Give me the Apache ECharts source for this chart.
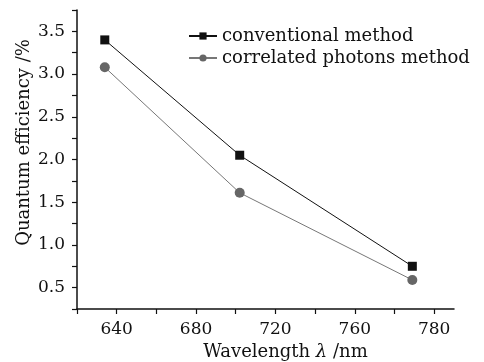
<!DOCTYPE html>
<html>
<head>
<meta charset="utf-8">
<script src="https://cdn.jsdelivr.net/npm/echarts@6/dist/echarts.min.js"></script>
<style>
  html, body { margin: 0; padding: 0; background: #fff; }
  #chart { width: 484px; height: 362px; }
</style>
</head>
<body>
<div id="chart"></div>
<script>
// wavelengths as placed on the drawn axis (nm)
const wavelengths = [634, 702, 789];
const conventional = [3.40, 2.05, 0.75];
const correlated = [3.08, 1.61, 0.59];
// x tick labels as printed (the last one reads 780 in the original)
const xTickValues = [640, 680, 720, 760, 800];
const xTickLabels = ['640', '680', '720', '760', '780'];
const yTickLabels = ['0.5', '1.0', '1.5', '2.0', '2.5', '3.0', '3.5'];

const serif = 'DejaVu Serif';

const myChart = echarts.init(document.getElementById('chart'), null, {renderer: 'canvas'});

const option = {
    backgroundColor: '#fff',
    animation: false,
    grid: {left: 77, right: 30, top: 10, bottom: 53, containLabel: false, outerBoundsMode: 'none'},
    legend: {
        left: 188,
        top: 27,
        padding: 0,
        orient: 'vertical',
        itemWidth: 28,
        itemHeight: 9,
        itemGap: 4,
        textStyle: {color: '#111', fontFamily: serif, fontSize: 18},
        data: ['conventional method', 'correlated photons method']
    },
    xAxis: {
        type: 'value',
        min: 620, max: 810, interval: 20,
        name: 'Wavelength {i|λ} /nm',
        nameLocation: 'middle',
        nameGap: 33,
        nameTextStyle: {
            color: '#111', fontFamily: serif, fontSize: 18,
            padding: [0, 0, 0, 40],
            rich: {i: {fontFamily: serif, fontStyle: 'italic', fontSize: 18, color: '#111'}}
        },
        axisLine: {lineStyle: {color: '#111', width: 1.5}},
        axisTick: {inside: false, length: 5, lineStyle: {color: '#111', width: 1.2}},
        splitLine: {show: false},
        axisLabel: {
            color: '#111', fontFamily: serif, fontSize: 17, margin: 12,
            showMinLabel: true, showMaxLabel: false,
            formatter: function (v) {
                const i = xTickValues.indexOf(v);
                return i >= 0 ? xTickLabels[i] : '';
            }
        }
    },
    yAxis: {
        type: 'value',
        min: 0.25, max: 3.75, interval: 0.25,
        name: 'Quantum efficiency /%',
        nameLocation: 'middle',
        nameGap: 44,
        nameMoveOverlap: false,
        nameTextStyle: {color: '#111', fontFamily: serif, fontSize: 18, padding: [0, 0, 0, 34]},
        axisLine: {show: true, lineStyle: {color: '#111', width: 1.5}},
        axisTick: {show: true, inside: false, length: 5, lineStyle: {color: '#111', width: 1.2}},
        splitLine: {show: false},
        axisLabel: {
            color: '#111', fontFamily: serif, fontSize: 17, margin: 12,
            formatter: function (v) {
                const s = v.toFixed(1);
                return (Math.abs(v * 2 - Math.round(v * 2)) < 1e-6 && yTickLabels.indexOf(s) >= 0) ? s : '';
            }
        }
    },
    series: [{
        name: 'conventional method',
        type: 'line',
        data: wavelengths.map((w, i) => [w, conventional[i]]),
        symbol: 'rect',
        symbolSize: 9,
        lineStyle: {color: '#111', width: 1},
        itemStyle: {color: '#111'}
    }, {
        name: 'correlated photons method',
        type: 'line',
        data: wavelengths.map((w, i) => [w, correlated[i]]),
        symbol: 'circle',
        symbolSize: 10,
        lineStyle: {color: '#777', width: 1},
        itemStyle: {color: '#666'}
    }]
};

myChart.setOption(option);
</script>
</body>
</html>
